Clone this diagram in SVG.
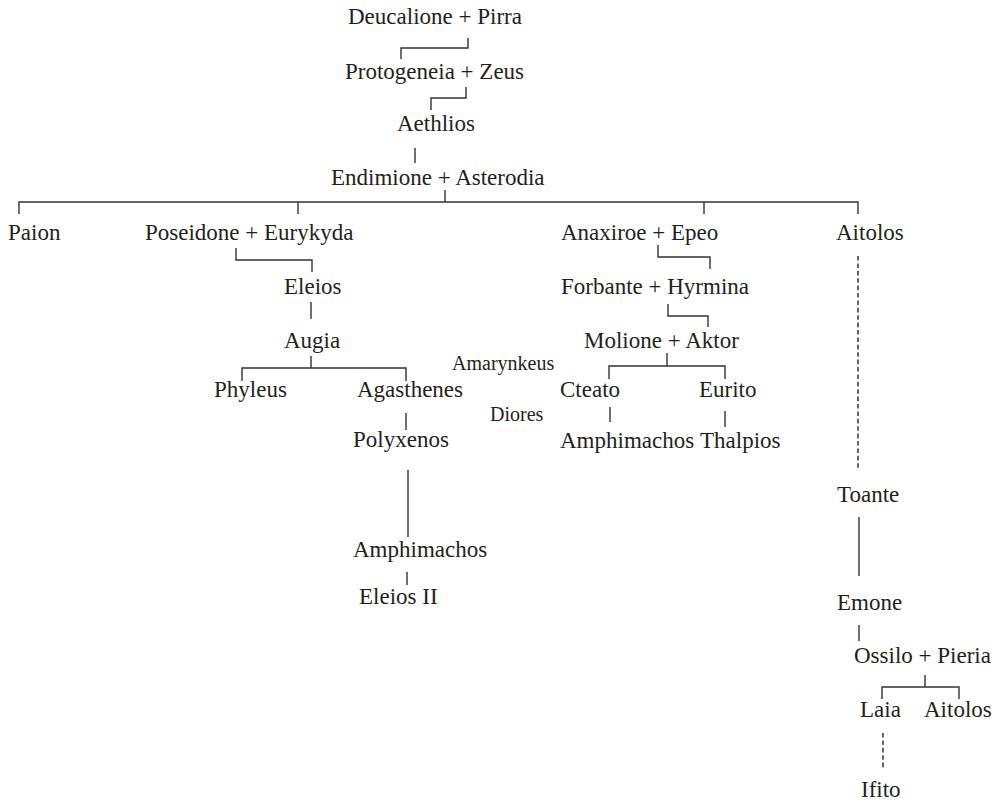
<svg xmlns="http://www.w3.org/2000/svg" width="999" height="802" viewBox="0 0 999 802">
<style>
text{font-family:"Liberation Serif","Times New Roman",serif;font-size:23px;fill:#231f20}
text.s{font-size:20px}
.c path{fill:none;stroke:#333;stroke-width:1.4}
.c path.d{stroke-dasharray:4.6 2.8;stroke-width:1.5}
</style>
<rect width="999" height="802" fill="#fff"/>
<g class="c" id="connectors">
<path d="M468,38 V48 H401 V59"/>
<path d="M466,87 V98 H431 V110"/>
<path d="M415,148 V163"/>
<path d="M445,190 V202"/>
<path d="M19,214 V202 H858 V214"/>
<path d="M298,202 V214"/>
<path d="M704,202 V214"/>
<path d="M236,248 V260 H312 V272"/>
<path d="M311,302 V319"/>
<path d="M311,356 V368"/>
<path d="M242,381 V368 H406 V381"/>
<path d="M406,413 V430"/>
<path d="M408,470 V537"/>
<path d="M407,572 V585"/>
<path d="M658,245 V257 H710 V269"/>
<path d="M668,304 V316 H708 V327"/>
<path d="M667,353 V366"/>
<path d="M609,379 V366 H725 V379"/>
<path d="M610,407 V422"/>
<path d="M725,411 V427"/>
<path class="d" d="M858,256 V470"/>
<path d="M859,517 V576"/>
<path d="M859,625 V641"/>
<path d="M925,675 V687"/>
<path d="M882,699 V687 H959 V699"/>
<path class="d" d="M883,733 V770"/>
</g>
<g id="deucalione"><text x="348" y="24">Deucalione + Pirra</text></g>
<g id="protogeneia"><text x="345" y="79">Protogeneia + Zeus</text></g>
<g id="aethlios"><text x="397" y="131">Aethlios</text></g>
<g id="endimione"><text x="331" y="185">Endimione + Asterodia</text></g>
<g id="paion"><text x="8" y="240">Paion</text></g>
<g id="poseidone"><text x="145" y="240">Poseidone + Eurykyda</text></g>
<g id="anaxiroe"><text x="561" y="240">Anaxiroe + Epeo</text></g>
<g id="aitolos1"><text x="836" y="240">Aitolos</text></g>
<g id="eleios"><text x="284" y="294">Eleios</text></g>
<g id="augia"><text x="284" y="348">Augia</text></g>
<g id="phyleus"><text x="214" y="397">Phyleus</text></g>
<g id="agasthenes"><text x="357" y="397">Agasthenes</text></g>
<g id="polyxenos"><text x="353" y="447">Polyxenos</text></g>
<g id="amphimachos1"><text x="353" y="557">Amphimachos</text></g>
<g id="eleios2"><text x="359" y="604">Eleios II</text></g>
<g id="forbante"><text x="561" y="294">Forbante + Hyrmina</text></g>
<g id="molione"><text x="584" y="348">Molione + Aktor</text></g>
<g id="amarynkeus"><text class="s" x="452" y="370">Amarynkeus</text></g>
<g id="cteato"><text x="560" y="397">Cteato</text></g>
<g id="eurito"><text x="699" y="397">Eurito</text></g>
<g id="diores"><text class="s" x="490" y="421">Diores</text></g>
<g id="amphimachos2"><text x="560" y="448">Amphimachos</text></g>
<g id="thalpios"><text x="700" y="448">Thalpios</text></g>
<g id="toante"><text x="837" y="502">Toante</text></g>
<g id="emone"><text x="837" y="610">Emone</text></g>
<g id="ossilo"><text x="854" y="663">Ossilo + Pieria</text></g>
<g id="laia"><text x="860" y="717">Laia</text></g>
<g id="aitolos2"><text x="924" y="717">Aitolos</text></g>
<g id="ifito"><text x="861" y="797">Ifito</text></g>
</svg>
